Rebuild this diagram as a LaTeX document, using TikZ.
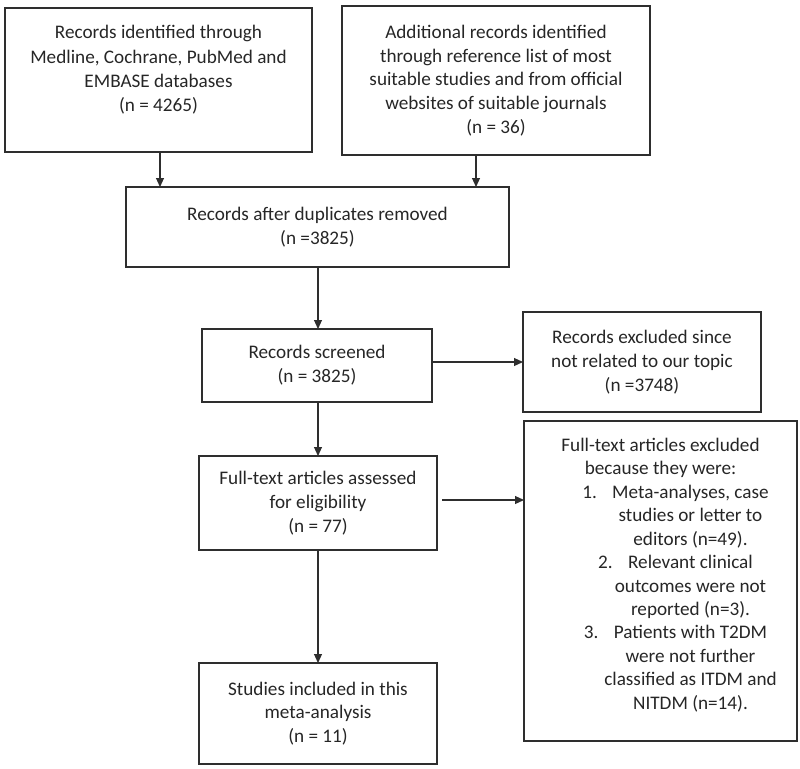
\documentclass[tikz,border=0pt]{standalone}
\usepackage{fontspec}
\setmainfont{Carlito}
\usetikzlibrary{arrows.meta}
\definecolor{ln}{HTML}{2E2E2E}
\definecolor{tx}{HTML}{262626}
\begin{document}
\begin{tikzpicture}[x=1pt,y=-1pt,
  box/.style={draw=ln,line width=1.3pt,inner sep=0pt,outer sep=0pt},
  txt/.style={text=tx,align=center,font=\fontsize{19.2}{23.7}\selectfont,inner sep=0pt},
  arr/.style={draw=ln,line width=1.1pt,-{Triangle[length=9pt,width=8pt]}}]
\useasboundingbox (0,0) rectangle (800,768);
% boxes
\node[box,minimum width=307,minimum height=144] (A) at (158.5,80) {};
\node[txt,font=\fontsize{19.2}{24.3}\selectfont] (At) at (158.5,70) {Records identified through\\Medline, Cochrane, PubMed and\\EMBASE databases\\(n = 4265)};
\node[box,minimum width=308,minimum height=149,txt] (B) at (496,80.5) {Additional records identified\\through reference list of most\\suitable studies and from official\\websites of suitable journals\\(n = 36)};
\node[box,minimum width=383,minimum height=80,txt] (C) at (317.5,227) {Records after duplicates removed\\(n =3825)};
\node[box,minimum width=230,minimum height=73,txt] (D) at (317,365.5) {Records screened\\(n = 3825)};
\node[box,minimum width=238,minimum height=100,txt] (E) at (642,362) {Records excluded since\\not related to our topic\\(n =3748)};
\node[box,minimum width=238,minimum height=94,txt] (F) at (318,503) {Full-text articles assessed\\for eligibility\\(n = 77)};
\node[box,minimum width=273,minimum height=320] (G) at (660.5,581) {};
\node[txt,font=\fontsize{19.2}{23.45}\selectfont] (Gt) at (660.5,575) {%
Full-text articles excluded\\
because they were:\\
\hspace*{30pt}1.\hspace{0.8em}Meta-analyses, case\\
\hspace*{60pt}studies or letter to\\
\hspace*{60pt}editors (n=49).\\
\hspace*{30pt}2.\hspace{0.8em}Relevant clinical\\
\hspace*{60pt}outcomes were not\\
\hspace*{60pt}reported (n=3).\\
\hspace*{30pt}3.\hspace{0.8em}Patients with T2DM\\
\hspace*{60pt}were not further\\
\hspace*{60pt}classified as ITDM and\\
\hspace*{60pt}NITDM (n=14).};
\node[box,minimum width=238,minimum height=101,txt] (H) at (318,713.5) {Studies included in this\\meta-analysis\\(n = 11)};
% connectors
\draw[arr] ([xshift=1.5pt]A.south) -- ([xshift=1.5pt]A.south |- C.north);
\draw[arr] ([xshift=-20pt]B.south) -- ([xshift=-20pt]B.south |- C.north);
\draw[arr] ([xshift=0.5pt]C.south) -- ([xshift=0.5pt]C.south |- D.north);
\draw[arr] (D.east |- E.west) -- (E.west);
\draw[arr] ([xshift=1pt]D.south) -- ([xshift=1pt]D.south |- F.north);
\draw[arr] ([xshift=5pt,yshift=3pt]F.east) -- ([yshift=3pt]F.east -| G.west);
\draw[arr] (F.south) -- (H.north);
\end{tikzpicture}
\end{document}
